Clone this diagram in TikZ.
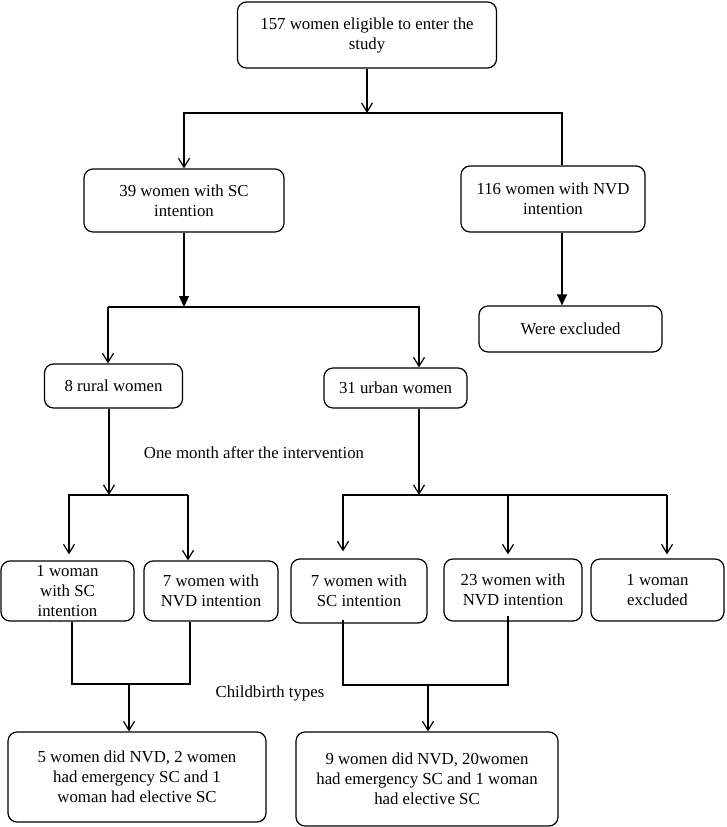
\documentclass[tikz,border=0pt]{standalone}
\usepackage{fontspec}
\setmainfont{Liberation Serif}
\usetikzlibrary{arrows.meta}
\tikzset{
  box/.style={draw, rounded corners=9pt, line width=1.2pt, align=center, inner sep=0pt},
  open/.style={-{Straight Barb[length=9pt,width=11pt]}},
  filled/.style={-{Triangle[length=11pt,width=10pt]}},
}
\begin{document}
\begin{tikzpicture}[x=1pt, y=-1pt, line width=1.2pt, font=\fontsize{16.8}{20}\selectfont]
      \useasboundingbox (0,0) rectangle (726,827);
      % boxes
      \node[box, minimum width=259pt, minimum height=66pt] (top) at (367,35)
        {157 women eligible to enter the\\study};
      \node[box, minimum width=200pt, minimum height=63pt] (sc) at (184,200.5)
        {39 women with SC\\intention};
      \node[box, minimum width=184pt, minimum height=66pt] (nvd) at (553,199)
        {116 women with NVD\\intention};
      \node[box, minimum width=183pt, minimum height=46pt] (excl) at (570.5,329)
        {Were excluded};
      \node[box, minimum width=138pt, minimum height=44pt] (rural) at (113.5,386)
        {8 rural women};
      \node[box, minimum width=143pt, minimum height=40pt] (urban) at (395.5,388)
        {31 urban women};
      \node[box, minimum width=133pt, minimum height=60pt] (rsc) at (67.5,591)
        {1 woman\\with SC\\intention};
      \node[box, minimum width=134pt, minimum height=60pt] (rnvd) at (211,591)
        {7 women with\\NVD intention};
      \node[box, minimum width=136pt, minimum height=64pt] (usc) at (359,591)
        {7 women with\\SC intention};
      \node[box, minimum width=138pt, minimum height=62pt] (unvd) at (513,590)
        {23 women with\\NVD intention};
      \node[box, minimum width=133pt, minimum height=62pt] (uexcl) at (657.5,590)
        {1 woman\\excluded};
      \node[box, minimum width=258pt, minimum height=90pt] (rbirth) at (137,777)
        {5 women did NVD, 2 women\\had emergency SC and 1\\woman had elective SC};
      \node[box, minimum width=262pt, minimum height=94pt] (ubirth) at (427,779)
        {9 women did NVD, 20women\\had emergency SC and 1 woman\\had elective SC};
      % free labels
      \node (month) at (254,453) {One month after the intervention};
      \node (types) at (270,693) {Childbirth types};
      % branch points
      \coordinate (s1) at (367,113);
      \coordinate (s1l) at (184,113);
      \coordinate (s1r) at (562,113);
      \coordinate (s2) at (184,307);
      \coordinate (s2l) at (108,307);
      \coordinate (s2r) at (419,307);
      \coordinate (s3) at (109,495);
      \coordinate (s3l) at (69,495);
      \coordinate (s3r) at (188,495);
      \coordinate (s4) at (419,495);
      \coordinate (s4l) at (343,495);
      \coordinate (s4m) at (508,495);
      \coordinate (s4r) at (667,495);
      \coordinate (m1l) at (72,684);
      \coordinate (m1r) at (190,684);
      \coordinate (m1) at (129,684);
      \coordinate (m2l) at (343,685);
      \coordinate (m2r) at (508,685);
      \coordinate (m2) at (428,685);
      % connectors
      \draw[open] (top) -- (s1);
      \draw[open] (s1) -- (s1l) -- (sc);
      \draw (s1) -- (s1r) -- (s1r |- nvd.north);
      \draw[filled] (sc) -- (s2);
      \draw[filled] (s1r |- nvd.south) -- (s1r |- excl.north);
      \draw[open] (s2l) -- (s2r) -- (s2r |- urban.north);
      \draw[open] (s2l) -- (s2l |- rural.north);
      \draw[open] (s3 |- rural.south) -- (s3);
      \draw[open, shorten >=6pt] (s3r) -- (s3l) -- (s3l |- rsc.north);
      \draw[open] (s3r) -- (s3r |- rnvd.north);
      \draw[open] (s4 |- urban.south) -- (s4);
      \draw[open, shorten >=7pt] (s4r) -- (s4l) -- (s4l |- usc.north);
      \draw[open, shorten >=4pt] (s4m) -- (s4m |- unvd.north);
      \draw[open, shorten >=4pt] (s4r) -- (s4r |- uexcl.north);
      \draw (m1l |- rsc.south) -- (m1l) -- (m1r) -- (m1r |- rnvd.south);
      \draw[open] (m1) -- (m1 |- rbirth.north);
      \draw ([yshift=4pt]m2l |- usc.south) -- (m2l) -- (m2r) -- ([yshift=6pt]m2r |- unvd.south);
      \draw[open] (m2) -- (m2 |- ubirth.north);
\end{tikzpicture}
\end{document}
